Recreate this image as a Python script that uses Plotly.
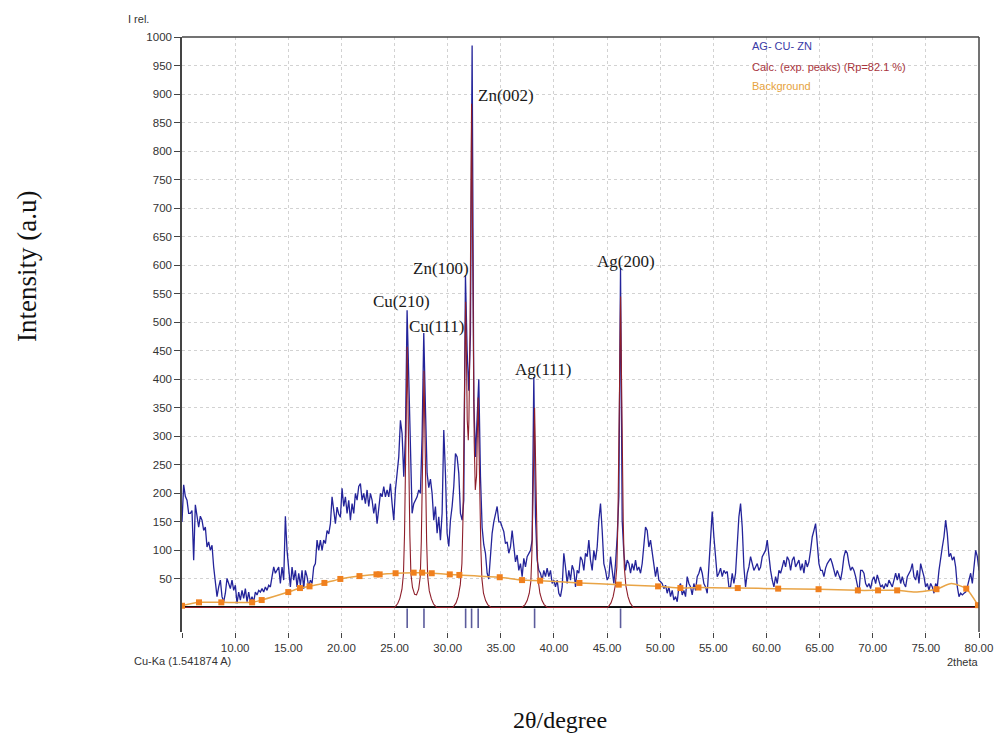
import numpy as np
import plotly.graph_objects as go

# ---------------- data ----------------
obs_start = 5.0
obs_end = 80.0
obs_intensity = [
    150, 215, 195, 188, 165, 165, 170, 83, 180, 160,
    141, 160, 153, 135, 141, 106, 115, 100, 109, 71,
    48, 19, 36, 48, 19, 10, 25, 51, 42, 33,
    48, 30, 39, 7, 27, 13, 30, 16, 33, 10,
    27, 10, 19, 10, 27, 22, 30, 27, 33, 27,
    36, 30, 39, 36, 54, 71, 60, 65, 71, 42,
    71, 48, 160, 100, 65, 36, 71, 48, 65, 36,
    60, 39, 65, 33, 65, 54, 36, 48, 42, 71,
    77, 118, 100, 118, 100, 118, 112, 135, 129, 147,
    194, 170, 147, 176, 164, 158,
    209, 177, 194, 165, 188, 153, 182, 165, 200, 188,
    212, 217, 188, 200, 182, 206, 177, 200, 188, 165,
    182, 147, 177, 200, 194, 212, 194, 206, 194, 217,
    182, 153, 206, 241, 264, 328, 305, 229, 300, 521,
    400, 235, 165, 182, 188, 194, 206, 200, 300, 481,
    350, 235, 210, 225, 200, 153, 177, 130, 159, 118,
    165, 311, 235, 130, 107, 153, 177, 212, 270, 264,
    235, 165, 153, 188, 583, 451, 380, 480, 985, 363,
    264, 334, 400, 230, 140, 110, 95, 60, 50, 90,
    130, 150, 165, 177, 150,
    150, 141, 133, 112, 115, 95, 106, 135, 100, 80,
    92, 65, 77, 54, 86, 71, 89, 95, 100, 118,
    404, 159, 83, 65, 60, 48, 65, 54, 69, 54,
    65, 42, 48, 36, 48, 25, 19, 36, 95, 71,
    42, 65, 48, 74, 65, 36, 65, 60, 89, 83,
    65, 95, 89, 118, 83, 65, 100, 83, 106, 153,
    182, 135, 77, 65, 48, 54, 89, 65, 42, 77,
    124, 194, 595, 153, 95, 65, 83, 77, 60, 77,
    65, 83, 65, 71, 60, 77, 106, 141, 135, 106,
    118, 95, 71, 54, 71, 48,
    45, 42, 33, 39, 25, 36, 19, 30, 13, 19,
    10, 36, 42, 22, 30, 19, 54, 42, 36, 22,
    42, 30, 54, 60, 71, 60, 42, 36, 25, 71,
    124, 168, 124, 83, 54, 60, 69, 54, 65, 60,
    63, 36, 36, 60, 42, 60, 106, 159, 182, 141,
    71, 36, 60, 71, 89, 77, 65, 71, 77, 65,
    71, 89, 95, 100, 118, 89, 65, 48, 36, 54,
    42, 65, 60, 71, 83, 71, 89, 83, 65, 83,
    89, 71, 77, 83, 65, 77, 60, 83, 71, 80,
    100, 124, 135, 147, 112, 77, 65,
    65, 54, 69, 77, 83, 86, 77, 65, 54, 65,
    54, 48, 65, 89, 100, 95, 77, 65, 71, 65,
    54, 42, 25, 65, 65, 60, 42, 36, 42, 33,
    48, 54, 42, 57, 48, 36, 39, 33, 42, 36,
    48, 42, 36, 48, 60, 48, 60, 42, 54, 42,
    36, 54, 60, 65, 77, 54, 48, 65, 42, 77,
    65, 54, 36, 42, 30, 42, 36, 25, 42, 36,
    65, 89, 106, 124, 153, 129, 89, 95, 83, 89,
    71, 36, 19, 25, 22, 25, 27, 36, 48, 60,
    42, 77, 100, 89, 65,
]

calc_2theta = [
    5.0,
    25.0, 25.3, 25.5, 25.7, 25.84, 25.94, 26.04, 26.09, 26.19, 26.29,
    26.34, 26.44, 26.54, 26.69, 26.89, 27.07, 27.27, 27.42, 27.52, 27.62,
    27.67, 27.77, 27.87, 27.92, 28.02, 28.12, 28.27, 28.47, 28.67, 28.97,
    30.49, 30.79, 30.99, 31.19, 31.34, 31.44, 31.54, 31.59, 31.69, 31.79,
    31.84, 31.94, 32.00, 32.10, 32.15, 32.25, 32.35, 32.40, 32.50, 32.60,
    32.72, 32.77, 32.87, 32.97, 33.02, 33.12, 33.22, 33.37, 33.57, 33.77, 34.07,
    36.98, 37.28, 37.48, 37.68, 37.83, 37.93, 38.03, 38.08, 38.18, 38.28,
    38.33, 38.43, 38.53, 38.68, 38.88, 39.08, 39.38,
    45.07, 45.37, 45.57, 45.77, 45.92, 46.02, 46.12, 46.17, 46.27, 46.37,
    46.42, 46.52, 46.62, 46.77, 46.97, 47.17, 47.47,
    80.0,
]
calc_intensity = [
    0,
    0, 7, 16, 32, 59, 128, 228, 320, 457, 320,
    228, 128, 59, 35, 23, 22, 32, 54, 116, 208,
    290, 415, 290, 208, 116, 54, 29, 15, 6, 0,
    0, 8, 19, 40, 77, 155, 274, 377, 536, 410,
    329, 293, 329, 479, 639, 883, 631, 464, 289, 206,
    231, 286, 368, 259, 189, 106, 51, 25, 12, 5, 0,
    0, 5, 12, 25, 46, 98, 175, 245, 350, 245,
    175, 98, 46, 25, 12, 5, 0,
    0, 8, 19, 38, 71, 153, 273, 382, 545, 382,
    273, 153, 71, 38, 19, 8, 0,
    0,
]

bg_2theta = [5.0, 6.6, 8.7, 11.6, 12.5, 15.0, 16.1, 17.0, 18.4, 19.9, 21.7,
             23.3, 23.6, 25.1, 26.8, 27.6, 28.5, 30.2, 31.1, 34.9, 37.0,
             38.7, 42.4, 46.1, 49.8, 51.9, 53.6, 57.3, 61.1, 64.9, 68.6,
             70.5, 72.3, 74.0, 76.0, 77.4, 78.8, 79.9]
bg_intensity = [3, 9, 9, 9, 13, 27, 34, 37, 43, 50, 55,
                58, 58, 60, 61, 61, 60, 58, 57, 53, 48,
                47, 43, 40, 37, 34, 35, 34, 33, 32, 30,
                30, 30, 27, 32, 42, 33, 4]
bg_is_knot = [True] * 33 + [False, True, False, True, True]

bragg_2theta = [26.19, 27.77, 31.69, 32.25, 32.87, 38.18, 46.27]

peak_labels = ["Cu(210)", "Cu(111)", "Zn(100)", "Zn(002)", "Ag(111)", "Ag(200)"]
label_2theta = [25.70, 28.99, 29.37, 35.48, 38.96, 46.77]
label_intensity = [537, 493, 595, 898, 418, 606]

x_tickvals = list(range(5, 81, 5))
x_ticktext = [""] + [f"{v:.2f}" for v in x_tickvals[1:]]
y_tickvals = list(range(50, 1001, 50))

series_names = ["AG- CU- ZN", "Calc. (exp. peaks) (Rp=82.1 %)", "Background"]

# ---------------- figure ----------------
obs_2theta = np.linspace(obs_start, obs_end, len(obs_intensity))

SANS = "Arial, Liberation Sans, sans-serif"
SERIF = "Times New Roman, Liberation Serif, serif"
OBS_C = "#24249a"
CALC_C = "#8e1e2a"
BG_C = "#e9a446"
BG_M = "#f0801e"
TICK_C = "#5c5c9c"

fig = go.Figure()
fig.add_trace(go.Scatter(x=obs_2theta, y=obs_intensity, mode="lines",
                         line=dict(color=OBS_C, width=1.3), name=series_names[0]))
fig.add_trace(go.Scatter(x=calc_2theta, y=calc_intensity, mode="lines",
                         line=dict(color=CALC_C, width=1.1), name=series_names[1]))
fig.add_trace(go.Scatter(x=bg_2theta, y=bg_intensity, mode="lines",
                         line=dict(color=BG_C, width=1.5, shape="spline", smoothing=0.6),
                         name=series_names[2]))
kx = [x for x, k in zip(bg_2theta, bg_is_knot) if k]
ky = [y for y, k in zip(bg_intensity, bg_is_knot) if k]
fig.add_trace(go.Scatter(x=kx, y=ky, mode="markers",
                         marker=dict(symbol="square", size=6, color=BG_M),
                         showlegend=False))
fig.add_trace(go.Scatter(x=bragg_2theta, y=[-19] * len(bragg_2theta), mode="markers",
                         marker=dict(symbol="line-ns-open", size=14, color=TICK_C,
                                     line=dict(color=TICK_C, width=1.6)),
                         showlegend=False))

annotations = []
for t, x, y in zip(peak_labels, label_2theta, label_intensity):
    annotations.append(dict(x=x, y=y, xref="x", yref="y", text=t, showarrow=False,
                            xanchor="center", yanchor="middle",
                            font=dict(family=SERIF, size=17, color="#1a1a1a")))

legend_colors = ["#3a3aa6", "#a8343c", "#e6a23c"]
legend_y = [0.9849, 0.9496, 0.9176]
for name, c, yy in zip(series_names, legend_colors, legend_y):
    annotations.append(dict(x=0.7127, y=yy, xref="paper", yref="paper", text=name,
                            showarrow=False, xanchor="left", yanchor="middle",
                            font=dict(family=SANS, size=11, color=c)))

annotations += [
    dict(x=-0.0552, y=1.0303, xref="paper", yref="paper", text="I rel.", showarrow=False,
         xanchor="center", yanchor="middle",
         font=dict(family=SANS, size=11, color="#333")),
    dict(x=-0.0627, y=-0.0487, xref="paper", yref="paper", text="Cu-Ka (1.541874 A)",
         showarrow=False, xanchor="left", yanchor="middle",
         font=dict(family=SANS, size=11, color="#333")),
    dict(x=1.001, y=-0.0504, xref="paper", yref="paper", text="2theta",
         showarrow=False, xanchor="right", yanchor="middle",
         font=dict(family=SANS, size=11, color="#333")),
    dict(x=-0.1945, y=0.6151, xref="paper", yref="paper", text="Intensity (a.u)",
         showarrow=False, textangle=-90, xanchor="center", yanchor="middle",
         font=dict(family=SERIF, size=27, color="#111")),
    dict(x=0.4743, y=-0.1479, xref="paper", yref="paper", text="2θ/degree",
         showarrow=False, xanchor="center", yanchor="middle",
         font=dict(family=SERIF, size=24, color="#111")),
]

frame = dict(color="#444", width=1.5)
shapes = [
    dict(type="line", xref="paper", yref="paper", x0=0, x1=1, y0=1, y1=1, line=frame),
    dict(type="line", xref="paper", yref="paper", x0=1, x1=1, y0=0, y1=1, line=frame),
]

fig.update_layout(
    width=994, height=733, autosize=False,
    margin=dict(l=182, r=15, t=37, b=101),
    paper_bgcolor="white", plot_bgcolor="white",
    showlegend=False,
    annotations=annotations, shapes=shapes,
    xaxis=dict(range=[5, 80], tickvals=x_tickvals, ticktext=x_ticktext,
               automargin=False,
               ticks="outside", ticklen=5, tickcolor="#444", tickwidth=1.2,
               showline=False, zeroline=False,
               showgrid=True, gridcolor="#d2d2d2", griddash="dot", gridwidth=1,
               tickfont=dict(family=SANS, size=11.5, color="#333")),
    yaxis=dict(range=[-43, 1000], tickvals=y_tickvals,
               automargin=False,
               ticks="outside", ticklen=6, tickcolor="#444", tickwidth=1.2,
               showline=True, linecolor="#444", linewidth=1.5,
               zeroline=True, zerolinecolor="#111", zerolinewidth=1.5,
               showgrid=True, gridcolor="#d2d2d2", griddash="dot", gridwidth=1,
               tickfont=dict(family=SANS, size=11.5, color="#333")),
)

fig.write_html("out.html")
